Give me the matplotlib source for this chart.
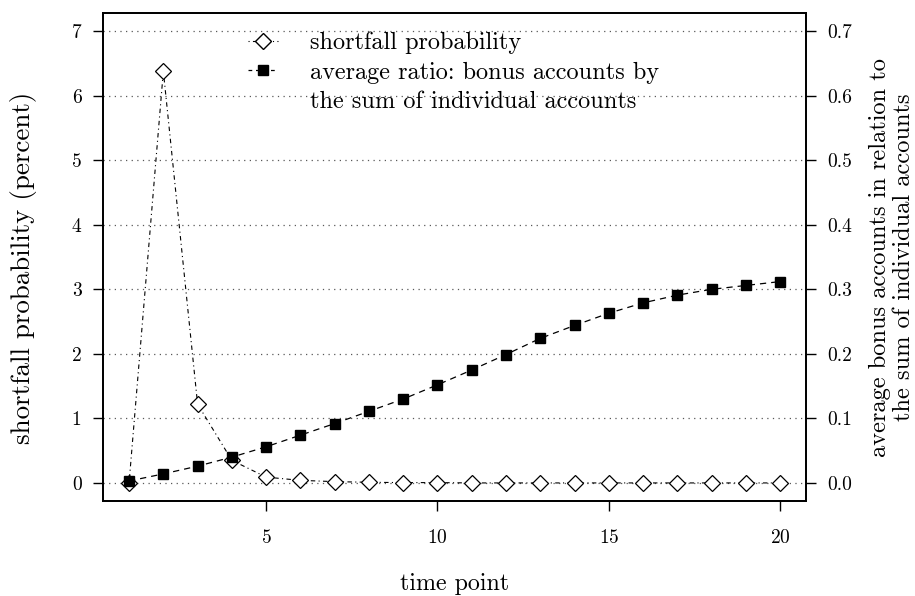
import matplotlib
matplotlib.use("Agg")
import matplotlib.pyplot as plt
from matplotlib.lines import Line2D
import numpy as np

plt.rcParams['font.family'] = ['cmr10', 'DejaVu Serif']
plt.rcParams['axes.formatter.use_mathtext'] = True
plt.rcParams['mathtext.fontset'] = 'cm'

# data
time_point = list(range(1, 21))
shortfall = [0.0, 6.38, 1.22, 0.35, 0.09, 0.04, 0.02, 0.01, 0.005, 0.005,
             0.0, 0.0, 0.0, 0.0, 0.0, 0.0, 0.0, 0.0, 0.0, 0.0]
ratio = [0.003, 0.014, 0.026, 0.040, 0.056, 0.074, 0.092, 0.111, 0.130, 0.152,
         0.175, 0.199, 0.224, 0.244, 0.263, 0.279, 0.291, 0.300, 0.306, 0.312]
left_ticks = [0, 1, 2, 3, 4, 5, 6, 7]
right_ticks = [0.0, 0.1, 0.2, 0.3, 0.4, 0.5, 0.6, 0.7]
x_ticks = [5, 10, 15, 20]

fig = plt.figure(figsize=(9.15, 5.96), dpi=100)
ax = fig.add_axes([0.1126, 0.1594, 0.7685, 0.8186])
ax2 = ax.twinx()

# gridlines
for t in left_ticks:
    ax.axhline(t, color='0.35', lw=0.9, linestyle=(0, (1, 3.5)), zorder=0)

ax.plot(time_point, shortfall, color='black', lw=0.8, linestyle=(0, (1, 3, 4, 3)),
        marker='D', markersize=8.3, markerfacecolor='white', markeredgecolor='black',
        markeredgewidth=0.9, zorder=3)
ax2.plot(time_point, ratio, color='black', lw=0.9, linestyle=(0, (5, 4)),
         marker='s', markersize=7.8, markerfacecolor='black', markeredgecolor='black',
         zorder=3)

ax.set_xlim(0.24, 20.76)
ax.set_ylim(-0.28, 7.28)
ax2.set_ylim(-0.028, 0.728)

ax.set_xticks(x_ticks)
ax.set_yticks(left_ticks)
ax.set_yticklabels([str(t) for t in left_ticks])
ax2.set_yticks(right_ticks)
ax2.set_yticklabels(["%.1f" % t for t in right_ticks])

ax.tick_params(axis='y', direction='out', length=7.5, width=1.0, labelsize=14, pad=8)
ax.tick_params(axis='x', direction='out', length=7.5, width=1.0, labelsize=14, pad=13)
ax2.tick_params(axis='y', direction='out', length=7.5, width=1.0, labelsize=14, pad=8)

for a in (ax, ax2):
    for s in a.spines.values():
        s.set_linewidth(1.3)

ax.set_xlabel("time point", fontsize=17)
ax.xaxis.label.set_va('center')
ax.xaxis.set_label_coords(0.5, -0.170)

ax.set_ylabel("shortfall probability (percent)", fontsize=18)
ax.yaxis.label.set_va('center')
ax.yaxis.set_label_coords(-0.113, 0.477)

ax2.set_ylabel("average bonus accounts in relation to\nthe sum of individual accounts",
               fontsize=17.5, rotation=90, linespacing=1.1)
ax2.yaxis.label.set_va('center')
ax2.yaxis.set_label_coords(1.1216, 0.5)

# scale label fonts to the lengths measured on the reference (pixels)
renderer = fig.canvas.get_renderer()
for txt, target, vertical in [(ax.xaxis.label, 109, False),
                              (ax.yaxis.label, 353, True),
                              (ax2.yaxis.label, 399, True)]:
    bb = txt.get_window_extent(renderer)
    cur = bb.height if vertical else bb.width
    txt.set_fontsize(txt.get_fontsize() * target / cur)

h1 = Line2D([], [], color='black', lw=0.8, linestyle=(0, (1, 3, 4, 3)),
            marker='D', markersize=8.3, markerfacecolor='white', markeredgecolor='black')
h2 = Line2D([], [], color='black', lw=0.9, linestyle=(0, (3, 3)),
            marker='s', markersize=7.8, markerfacecolor='black')
h3 = Line2D([], [], color='none')
leg = ax2.legend([h1, h2, h3],
                 ["shortfall probability", "average ratio: bonus accounts by",
                  "the sum of individual accounts"],
                 loc='upper left', bbox_to_anchor=(0.206, 0.962), frameon=False,
                 fontsize=17.5, handlelength=1.25, handletextpad=1.3, labelspacing=0.31,
                 borderpad=0, borderaxespad=0)

fig.savefig("out.png", dpi=100)
